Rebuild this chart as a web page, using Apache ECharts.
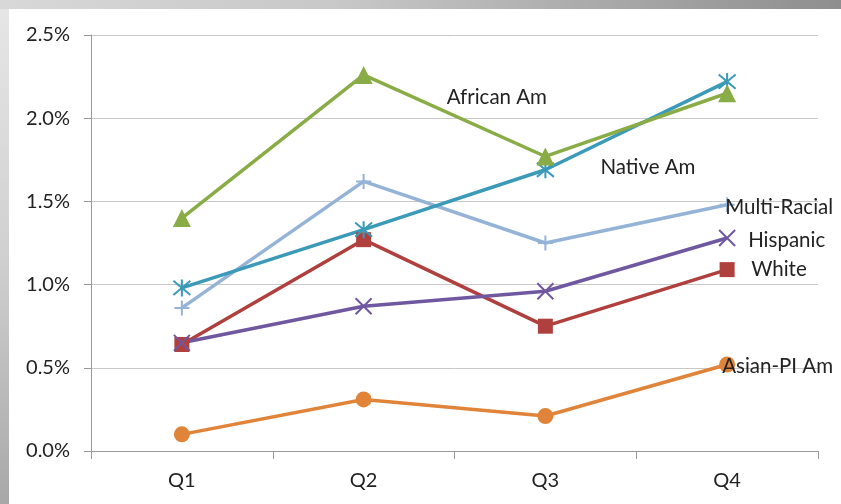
<!DOCTYPE html>
<html><head><meta charset="utf-8">
<script src="https://cdn.jsdelivr.net/npm/echarts@6/dist/echarts.min.js"></script>
<style>
html,body{margin:0;padding:0;width:841px;height:504px;overflow:hidden;}
body{background:linear-gradient(90deg,#d8d8d8 0%,#c8c8c8 40%,#8e8e8e 100%);position:relative;}
#left{position:absolute;left:0;top:9px;width:9px;height:495px;background:linear-gradient(180deg,#e6e6e6 0%,#d0d0d0 50%,#a8a8a8 100%);}
#chart{position:absolute;left:9px;top:9px;width:832px;height:495px;background:#fff;}
</style></head>
<body><div id="left"></div><div id="chart"></div>
<script>
const categories = ['Q1','Q2','Q3','Q4'];
const yTicks = [0, 0.5, 1.0, 1.5, 2.0, 2.5];
const africanAm = [1.40, 2.26, 1.77, 2.15];
const nativeAm = [0.98, 1.33, 1.69, 2.22];
const multiRacial = [0.86, 1.62, 1.25, 1.48];
const hispanic = [0.65, 0.87, 0.96, 1.28];
const white = [0.64, 1.27, 0.75, 1.09];
const asianPI = [0.10, 0.31, 0.21, 0.52];

const font = 'Lato, "Open Sans", sans-serif';
const lblStyle = {fontFamily: font, fontSize: 20.5, color: '#222'};

function mkSeries(name, data, color, symbol, size, labelIdx, offset, stroke) {
  return {
    name, type: 'line', data: data.map((v, i) => {
      if (i !== labelIdx) return v;
      return {value: v, label: Object.assign({show: true, formatter: name, position: 'inside', align: 'left', verticalAlign: 'middle', offset}, lblStyle)};
    }),
    symbol, symbolSize: size, showAllSymbol: true,
    lineStyle: {color, width: 3.5},
    itemStyle: stroke ? {color: 'transparent', borderColor: color, borderWidth: 2} : {color},
    emphasis: {disabled: true},
    animation: false
  };
}

const chart = echarts.init(document.getElementById('chart'));
chart.setOption({
  backgroundColor: '#fff',
  grid: {left: 82, right: 23, top: 26, bottom: 53},
  xAxis: {
    type: 'category', data: categories, boundaryGap: true,
    axisLine: {lineStyle: {color: '#999', width: 1}},
    axisTick: {show: true, length: 8, lineStyle: {color: '#999'}},
    axisLabel: {fontFamily: font, fontSize: 20, color: '#222', margin: 20}
  },
  yAxis: {
    type: 'value', min: yTicks[0], max: yTicks[yTicks.length - 1], interval: 0.5,
    axisLine: {show: true, lineStyle: {color: '#999'}},
    axisTick: {show: true, length: 7, lineStyle: {color: '#999'}},
    splitLine: {lineStyle: {color: '#c8c8c8'}},
    axisLabel: {fontFamily: font, fontSize: 20, color: '#222', margin: 21, formatter: v => v.toFixed(1) + '%'}
  },
  series: [
    mkSeries('Asian-PI Am', asianPI, '#e0843a', 'circle', 16, 3, [-5, 2]),
    mkSeries('White', white, '#b0403e', 'rect', 15, 3, [24, 0]),
    mkSeries('Hispanic', hispanic, '#6f58a0', 'path://M0,0L10,10M10,0L0,10', 16, 3, [21, 2], true),
    mkSeries('Multi-Racial', multiRacial, '#95b3d7', 'path://M5,0L5,10M0,5L10,5', 15, 3, [-2, 3], true),
    mkSeries('Native Am', nativeAm, '#3a9ab8', 'path://M0,0L10,10M10,0L0,10M5,-1L5,11', 17, 2, [55, -2], true),
    mkSeries('African Am', africanAm, '#8aac46', 'triangle', 18, 1, [83, 22])
  ]
});
</script></body></html>
